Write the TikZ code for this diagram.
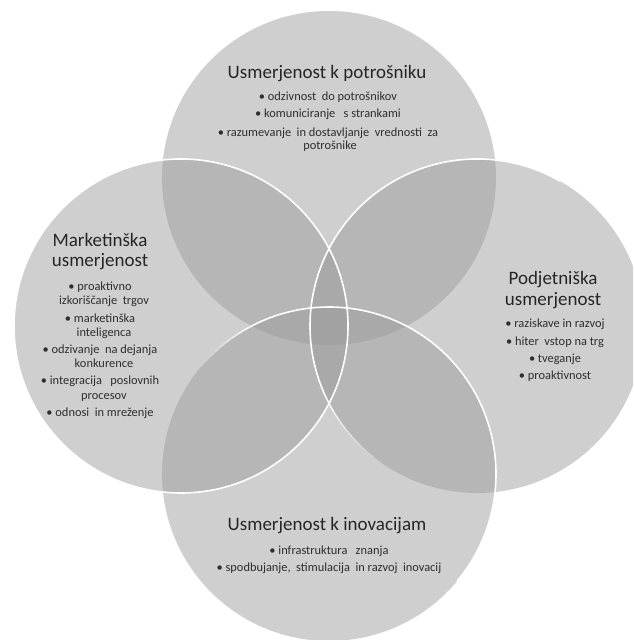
\documentclass[tikz,border=0pt]{standalone}
\usepackage{fontspec}
\setmainfont{Carlito}
\usetikzlibrary{calc}
\definecolor{vg}{gray}{0.608}
\definecolor{tc}{HTML}{262626}
\definecolor{bc}{HTML}{2E2E2E}
\newcommand{\W}{\hspace{0.22em}}
\tikzset{
  venn/.style={circle, minimum size=334pt, inner sep=0pt, draw=none, fill=vg, fill opacity=0.47},
  wline/.style={draw=white, line width=1.6pt},
  ttl/.style={font=\fontsize{19}{21}\selectfont, text=tc, anchor=base, inner sep=0pt},
  bul/.style={font=\fontsize{12.4}{14}\selectfont, text=bc, anchor=base, inner sep=0pt}
}
\begin{document}
\begin{tikzpicture}[x=1pt,y=1pt]
\useasboundingbox (0,0) rectangle (633,640);
\fill[white] (0,0) rectangle (633,640);
\clip (0,0) rectangle (633,640);
\coordinate (cT) at (329,462);
\coordinate (cR) at (477,314);
\coordinate (cL) at (181,314);
\coordinate (cB) at (329,166);
% circles
\node[venn] (top) at (cT) {};
\node[venn] (right) at (cR) {};
\node[venn] (left) at (cL) {};
\node[venn] (bottom) at (cB) {};
% white outlines (fading)
\draw[wline] (cR) ++(60:167) arc[start angle=60, end angle=200, radius=167];
\foreach \i in {0,...,9}{
  \pgfmathsetmacro\s{200+3.5*\i}
  \pgfmathsetmacro\o{1-\i/10}
  \draw[wline, draw opacity=\o] (cR) ++(\s:167) arc[start angle=\s, end angle=\s+3.6, radius=167];
}
\draw[wline] (cL) circle[radius=167];
\draw[wline] (cB) ++(-40:167) arc[start angle=-40, end angle=115, radius=167];
\foreach \i in {0,...,9}{
  \pgfmathsetmacro\s{115+2.5*\i}
  \pgfmathsetmacro\o{1-\i/10}
  \draw[wline, draw opacity=\o] (cB) ++(\s:167) arc[start angle=\s, end angle=\s+2.6, radius=167];
}
% top texts
\node[ttl] (t0) at (327,561) {Usmerjenost k potrošniku};
\node[bul] (t1) at (328,539) {• odzivnost\W{} do potrošnikov};
\node[bul] (t2) at (328,522) {• komuniciranje\W{}\W{} s strankami};
\node[bul] (t3) at (328,503) {• razumevanje\W{} in dostavljanje\W{} vrednosti\W{} za};
\node[bul] (t4) at (330,490) {potrošnike};
% left texts
\node[ttl] (l0) at (100,393) {Marketinška};
\node[ttl] (l1) at (100,373) {usmerjenost};
\node[bul] (l2) at (100,349) {• proaktivno};
\node[bul] (l3) at (104,335) {izkoriščanje\W{} trgov};
\node[bul] (l4) at (100,317) {• marketinška};
\node[bul] (l5) at (104,303) {inteligenca};
\node[bul] (l6) at (100,286) {• odzivanje\W{} na dejanja};
\node[bul] (l7) at (104,272) {konkurence};
\node[bul] (l8) at (100,255) {• integracija\W{}\W{} poslovnih};
\node[bul] (l9) at (104,240) {procesov};
\node[bul] (l10) at (100,223) {• odnosi\W{} in mreženje};
% right texts
\node[ttl] (r0) at (553,355) {Podjetniška};
\node[ttl] (r1) at (553,334) {usmerjenost};
\node[bul] (r2) at (555,312) {• raziskave in razvoj};
\node[bul] (r3) at (555,294) {• hiter\W{} vstop na trg};
\node[bul] (r4) at (555,277) {• tveganje};
\node[bul] (r5) at (555,260) {• proaktivnost};
% bottom texts
\node[ttl] (b0) at (327,109) {Usmerjenost k inovacijam};
\node[bul] (b1) at (329,85) {• infrastruktura\W{}\W{} znanja};
\node[bul] (b2) at (329,68) {• spodbujanje,\W{} stimulacija\W{} in razvoj\W{} inovacij};
\end{tikzpicture}
\end{document}
